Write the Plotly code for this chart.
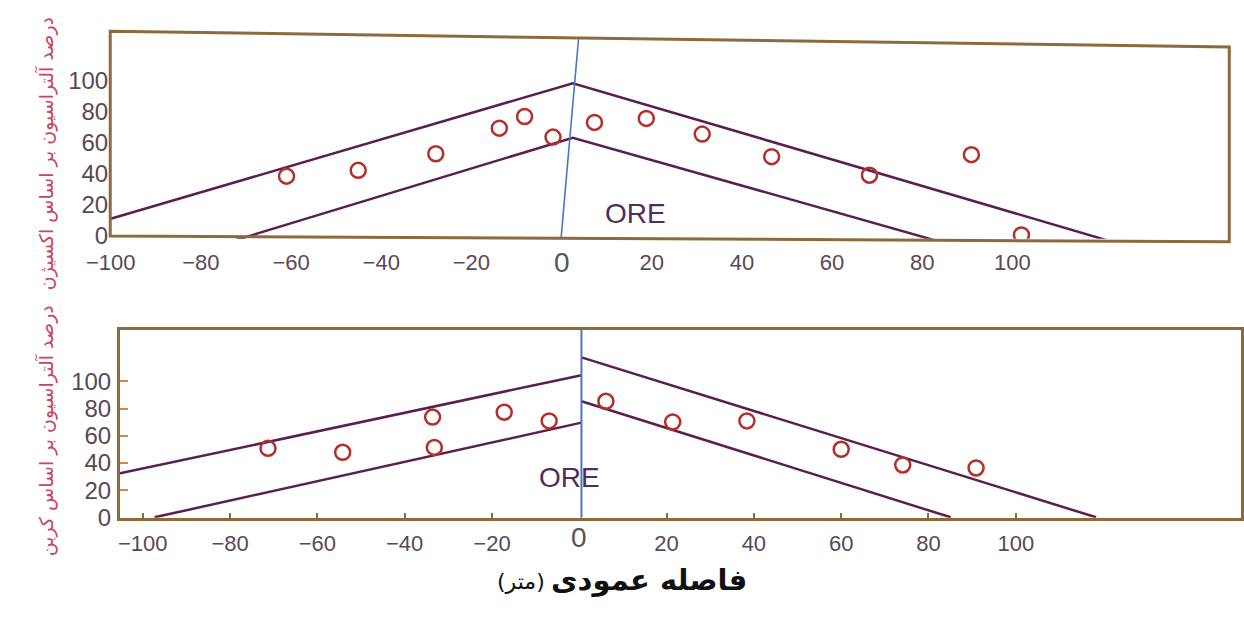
import plotly.graph_objects as go

W, H = 1244, 617

# Upper panel: alteration percent based on oxygen
top_dist = [-61.0, -45.1, -27.9, -13.8, -8.2, -1.9, 7.3, 18.8, 31.2, 46.6, 68.3, 90.9, 102.0]
top_alt = [38.4, 42.1, 52.8, 69.2, 76.7, 63.5, 72.9, 75.5, 65.4, 50.9, 39.0, 52.2, 0.6]
top_outer_x = [-100.0, 2.5, 121.2]
top_outer_y = [11.0, 98.1, -3.0]
top_inner_x = [-72.6, 2.5, 83.0]
top_inner_y = [-3.0, 63.1, -3.0]
top_contact_x = [-0.1, 3.8]
top_contact_y = [-1.3, 127.7]

# Lower panel: alteration percent based on carbon
bot_dist = [-71.3, -54.2, -33.6, -33.2, -17.2, -6.9, 6.1, 21.4, 38.4, 60.0, 74.1, 90.9]
bot_alt = [50.7, 47.8, 73.7, 51.4, 77.3, 70.9, 85.3, 70.1, 70.9, 50.0, 38.5, 36.3]
bot_left_outer_x = [-105.2, 0.5]
bot_left_outer_y = [32.3, 104.5]
bot_left_inner_x = [-97.3, 0.5]
bot_left_inner_y = [0.0, 69.6]
bot_right_outer_x = [0.5, 118.4]
bot_right_outer_y = [117.6, 0.0]
bot_right_inner_x = [0.5, 85.1]
bot_right_inner_y = [85.3, 0.0]
bot_contact_x = [0.5, 0.5]
bot_contact_y = [-1.0, 140.0]

x_ticks = [-100, -80, -60, -40, -20, 20, 40, 60, 80, 100]
y_ticks = [0, 20, 40, 60, 80, 100]

title_top = "درصد آلتراسیون بر اساس اکسیژن"
title_bot = "درصد آلتراسیون بر اساس کربن"
x_title = "فاصله عمودی"
x_unit = "(متر)"

LINE = "#5b1f4f"
MARK = "#b3302a"
FRAME = "#8c6a3c"
BLUE = "#4a78c0"
TICK = "#5a4858"
TITLE_RED = "#c8455e"


def px(x):
    return x / W


def py(y):
    return 1 - y / H


fig = go.Figure()


def line(xs, ys, xa, ya, color=LINE, width=2.5):
    fig.add_trace(go.Scatter(x=xs, y=ys, mode="lines", xaxis=xa, yaxis=ya,
                             line=dict(color=color, width=width), hoverinfo="skip"))


# upper panel
line(top_outer_x, top_outer_y, "x", "y")
line(top_inner_x, top_inner_y, "x", "y")
line(top_contact_x, top_contact_y, "x", "y", BLUE, 1.6)
fig.add_trace(go.Scatter(x=top_dist, y=top_alt, mode="markers", xaxis="x", yaxis="y",
                         marker=dict(symbol="circle-open", size=15, color=MARK,
                                     line=dict(width=2.5, color=MARK))))

# lower panel
line(bot_left_outer_x, bot_left_outer_y, "x2", "y2")
line(bot_left_inner_x, bot_left_inner_y, "x2", "y2")
line(bot_right_outer_x, bot_right_outer_y, "x2", "y2")
line(bot_right_inner_x, bot_right_inner_y, "x2", "y2")
line(bot_contact_x, bot_contact_y, "x2", "y2", BLUE, 2)
fig.add_trace(go.Scatter(x=bot_dist, y=bot_alt, mode="markers", xaxis="x2", yaxis="y2",
                         marker=dict(symbol="circle-open", size=15, color=MARK,
                                     line=dict(width=2.5, color=MARK))))

xfont = dict(family="Liberation Sans, Arial, sans-serif", size=22, color=TICK)
yfont = dict(family="Liberation Sans, Arial, sans-serif", size=24, color=TICK)

fig.update_layout(
    width=W, height=H, margin=dict(l=0, r=0, t=0, b=0),
    paper_bgcolor="white", plot_bgcolor="white", showlegend=False,
    xaxis=dict(domain=[px(88), px(1230)], range=[-100.1, 148.1], anchor="y",
               tickvals=x_ticks, ticks="", showgrid=False, zeroline=False,
               showline=False, tickfont=xfont, ticklabelstandoff=8),
    yaxis=dict(domain=[py(244), py(40)], range=[-1.9, 126.4], anchor="x",
               tickvals=y_ticks, ticks="", showgrid=False, zeroline=False,
               showline=False, tickfont=yfont, ticklabelstandoff=1),
    xaxis2=dict(domain=[px(98), px(1242)], range=[-105.2, 151.6], anchor="y2",
                tickvals=x_ticks, ticks="inside", ticklen=5, tickwidth=2, tickcolor=FRAME,
                showgrid=False, zeroline=False, showline=True, mirror=True,
                linecolor=FRAME, linewidth=3, tickfont=xfont, ticklabelstandoff=4),
    yaxis2=dict(domain=[py(529), py(337)], range=[-0.4, 137.8], anchor="x2",
                tickvals=y_ticks, ticks="inside", ticklen=8, tickwidth=2, tickcolor="#d08a4a",
                showgrid=False, zeroline=False, showline=True, mirror=True,
                linecolor=FRAME, linewidth=3, tickfont=yfont, ticklabelstandoff=1),
)

# tilted frame of the upper panel
fig.add_shape(type="path", xref="paper", yref="paper",
              path=f"M {px(88)},{py(32)} L {px(1230)},{py(48)} L {px(1230)},{py(247)} "
                   f"L {px(88)},{py(241)} Z",
              line=dict(color=FRAME, width=3), fillcolor="rgba(0,0,0,0)")

mid = dict(xanchor="center", yanchor="middle", showarrow=False)
ann = [
    dict(x=0, xref="x", y=py(268), yref="paper", text="0",
         font=dict(family="Liberation Sans, Arial", size=28, color="#555"), **mid),
    dict(x=0, xref="x2", y=py(549), yref="paper", text="0",
         font=dict(family="Liberation Sans, Arial", size=28, color="#555"), **mid),
    dict(x=16.4, xref="x", y=14.5, yref="y", text="ORE",
         font=dict(family="Liberation Sans, Arial", size=28, color="#4f2d5c"), **mid),
    dict(x=-2.2, xref="x2", y=29.1, yref="y2", text="ORE",
         font=dict(family="Liberation Sans, Arial", size=28, color="#4f2d5c"), **mid),
    dict(x=px(22), xref="paper", y=py(157), yref="paper", text=title_top, textangle=-90,
         font=dict(family="DejaVu Sans", size=19, color=TITLE_RED), **mid),
    dict(x=px(22), xref="paper", y=py(440), yref="paper", text=title_bot, textangle=-90,
         font=dict(family="DejaVu Sans", size=19, color=TITLE_RED), **mid),
    dict(x=px(638), xref="paper", y=py(592), yref="paper", text=f"<b>{x_title}</b>",
         font=dict(family="DejaVu Sans", size=29, color="#111"), **mid),
    dict(x=px(507), xref="paper", y=py(594), yref="paper", text=x_unit,
         font=dict(family="DejaVu Sans", size=22, color="#111"), **mid),
]
fig.update_layout(annotations=ann)

fig.write_html("out.html")
